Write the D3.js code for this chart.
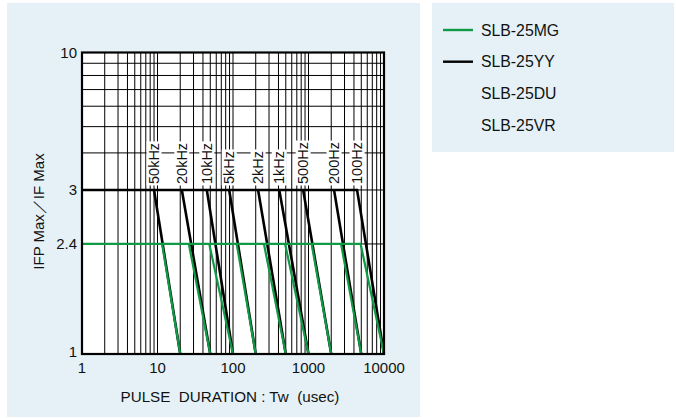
<!DOCTYPE html>
<html><head><meta charset="utf-8">
<script src="https://cdn.jsdelivr.net/npm/d3@7"></script>
<style>
html,body{margin:0;padding:0;background:#fff;}
svg{display:block;}
text{font-family:"Liberation Sans",Arial,Helvetica,sans-serif;fill:#111;}
</style></head>
<body>
<svg id="c" width="676" height="418"></svg>
<script>
// ---- data ----
const freqLabels = ["50kHz","20kHz","10kHz","5kHz","2kHz","1kHz","500Hz","200Hz","100Hz"];
const periods    = [20, 50, 100, 200, 500, 1000, 2000, 5000, 10000];      // Tw where IFP/IF = 1
const yyStart    = [9, 21, 45, 89, 215, 410, 850, 2180, 4400];             // SLB-25YY knee at 3
const mgStart    = [11.5, 26, 48.5, 112, 257, 490, 1100, 2700, 4900];      // SLB-25MG knee at 2.4
const yyLevel = 3, mgLevel = 2.4;
const xTickVals = [1, 10, 100, 1000, 10000];
const yTickVals = [1, 2.4, 3, 10];
const yGridVals = [2.4, 3, 4, 5, 6, 7, 8, 9, 10];
const legendNames = ["SLB-25MG","SLB-25YY","SLB-25DU","SLB-25VR"];
const legendColors = ["#0f9a45","#000000",null,null];

// ---- layout ----
const svg = d3.select("#c");
const bg = "#e5f1f6";
svg.append("rect").attr("x",7).attr("y",3).attr("width",413).attr("height",414).attr("fill",bg);
svg.append("rect").attr("x",432).attr("y",3).attr("width",242).attr("height",149).attr("fill",bg);

const L = 82, T = 52.5, W = 302, H = 301.5;
const g = svg.append("g").attr("transform",`translate(${L},${T})`);
g.append("rect").attr("width",W).attr("height",H).attr("fill","#fff");

const x = d3.scaleLog().domain([1,10000]).range([0,W]);
const yLow = d3.scaleLinear().domain([1, 2.4, 3]).range([H, H*(1-0.365), H*(1-0.544)]);
const yHigh = d3.scaleLog().domain([2, 9]).range([H*(1-0.544), 0]);
const y = v => v >= 3 ? yHigh(v - 1) : yLow(v);

// grid
g.selectAll(".vg").data(x.ticks()).enter().append("line")
  .attr("x1",d=>x(d)).attr("x2",d=>x(d)).attr("y1",0).attr("y2",H)
  .attr("stroke","#000").attr("stroke-width",1);
g.selectAll(".hg").data(yGridVals).enter().append("line")
  .attr("x1",0).attr("x2",W).attr("y1",d=>y(d)).attr("y2",d=>y(d))
  .attr("stroke","#000").attr("stroke-width",1);

// frequency labels with white boxes
const lab = g.selectAll(".fl").data(freqLabels).enter().append("g")
  .attr("transform",(d,i)=>`translate(${x(yyStart[i])},${y(yyLevel)-6}) rotate(-90)`);
lab.append("text").text(d=>d).attr("font-size",14.5).attr("dominant-baseline","central").attr("x",0);
lab.each(function(){
  const t = d3.select(this).select("text");
  const b = t.node().getBBox();
  d3.select(this).insert("rect","text").attr("x",b.x-1.5).attr("y",b.y+0.5)
    .attr("width",b.width+3).attr("height",b.height-1).attr("fill","#fff");
});

const line = d3.line().x(d=>x(d[0])).y(d=>y(d[1]));
// YY (black)
const n = periods.length;
g.append("path").attr("d",line([[1,yyLevel],[yyStart[n-1],yyLevel],[periods[n-1],1]]))
  .attr("fill","none").attr("stroke","#000").attr("stroke-width",2.6);
for(let i=0;i<n-1;i++){
  g.append("path").attr("d",line([[yyStart[i],yyLevel],[periods[i],1]]))
   .attr("fill","none").attr("stroke","#000").attr("stroke-width",2.6);
}
// MG (green)
g.append("path").attr("d",line([[1,mgLevel],[mgStart[n-1],mgLevel],[periods[n-1],1]]))
  .attr("fill","none").attr("stroke",legendColors[0]).attr("stroke-width",2.2);
for(let i=0;i<n-1;i++){
  g.append("path").attr("d",line([[mgStart[i],mgLevel],[periods[i],1]]))
   .attr("fill","none").attr("stroke",legendColors[0]).attr("stroke-width",2.2);
}

// frame
g.append("rect").attr("width",W).attr("height",H).attr("fill","none").attr("stroke","#000").attr("stroke-width",2.2);

// tick labels
g.selectAll(".xt").data(xTickVals).enter().append("text")
  .attr("x",d=>x(d)).attr("y",H+19).attr("text-anchor","middle").attr("font-size",15).text(d=>d);
g.selectAll(".yt").data(yTickVals).enter().append("text")
  .attr("x",-5).attr("y",d=>y(d)-(d===1?3:0)).attr("text-anchor","end").attr("dominant-baseline","central")
  .attr("font-size",15).text(d=>d);

// axis titles
svg.append("text").attr("x",L+W/2-3).attr("y",402).attr("text-anchor","middle").attr("font-size",15.2)
  .style("white-space","pre").text("PULSE  DURATION : Tw  (usec)");
svg.append("text").attr("transform",`translate(44,${T+159}) rotate(-90)`).attr("text-anchor","middle")
  .attr("font-size",15).text("IFP Max／IF Max");

// legend
const lg = svg.selectAll(".lg").data(legendNames).enter().append("g")
  .attr("transform",(d,i)=>`translate(443,${30+i*31.7})`);
lg.filter((d,i)=>legendColors[i]).append("line").attr("x1",0).attr("x2",30).attr("y1",0).attr("y2",0)
  .attr("stroke",(d,i)=>legendColors[legendNames.indexOf(d)]).attr("stroke-width",2.4);
lg.append("text").attr("x",38).attr("y",0).attr("dominant-baseline","central").attr("font-size",15.8).text(d=>d);
</script>
</body></html>
